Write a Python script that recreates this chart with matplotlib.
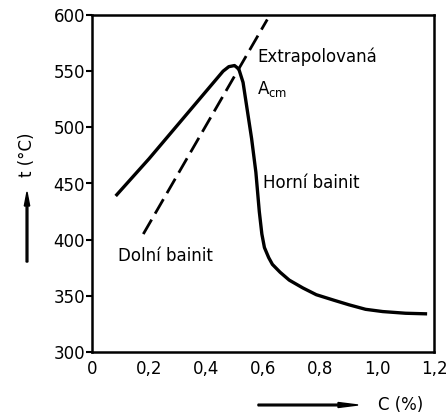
import matplotlib.pyplot as plt

# solid curve
carbon = [0.087, 0.20, 0.30, 0.40, 0.44, 0.46, 0.48, 0.50, 0.515, 0.53, 0.545, 0.56,
          0.575, 0.587, 0.596, 0.605, 0.62, 0.633, 0.66, 0.692, 0.74, 0.787, 0.85,
          0.902, 0.96, 1.02, 1.10, 1.17]
temp = [440, 472, 502, 532, 544, 550, 554, 555, 552, 540, 515, 490,
        460, 425, 405, 393, 384, 378, 371, 364, 357, 351, 346,
        342, 338, 336, 334.5, 334]

# extrapolated Acm (dashed)
acm_carbon = [0.18, 0.615]
acm_temp = [405, 596]

xticks = [0, 0.2, 0.4, 0.6, 0.8, 1.0, 1.2]
xticklabels = ["0", "0,2", "0,4", "0,6", "0,8", "1,0", "1,2"]
yticks = [300, 350, 400, 450, 500, 550, 600]

fig = plt.figure(figsize=(4.46, 4.19), dpi=100)
ax = fig.add_axes([92 / 446, 1 - 352 / 419, 342 / 446, 337 / 419])

ax.plot(carbon, temp, color='black', lw=2.4, solid_joinstyle='round')
ax.plot(acm_carbon, acm_temp, color='black', lw=2.0, ls=(0, (6, 2.5)))

ax.set_xlim(0, 1.2)
ax.set_ylim(300, 600)
ax.set_xticks(xticks)
ax.set_xticklabels(xticklabels, fontsize=12)
ax.set_yticks(yticks)
ax.set_yticklabels([str(v) for v in yticks], fontsize=12)
ax.tick_params(axis='y', length=4, width=1.5, pad=1)
ax.tick_params(axis='x', length=0, pad=6)
for s in ax.spines.values():
    s.set_linewidth(1.8)

ax.text(0.58, 558, "Extrapolovaná", fontsize=12)
ax.text(0.58, 530, r"A$_{\mathregular{cm}}$", fontsize=12)
ax.text(0.60, 446, "Horní bainit", fontsize=12)
ax.text(0.09, 381, "Dolní bainit", fontsize=12)

# axis labels with arrows
fig.text(27 / 446, 1 - 155 / 419, "t (°C)", rotation=90, fontsize=12,
         ha='center', va='center')
fig.patches.append(plt.Arrow(27 / 446, 1 - 262 / 419, 0, 70 / 419, width=0.02,
                             transform=fig.transFigure, color='black'))
fig.text(401 / 446, 1 - 405 / 419, "C (%)", fontsize=12, ha='center', va='center')
fig.patches.append(plt.Arrow(258 / 446, 1 - 405 / 419, 100 / 446, 0, width=0.02,
                             transform=fig.transFigure, color='black'))

plt.savefig('out.png', dpi=100)
